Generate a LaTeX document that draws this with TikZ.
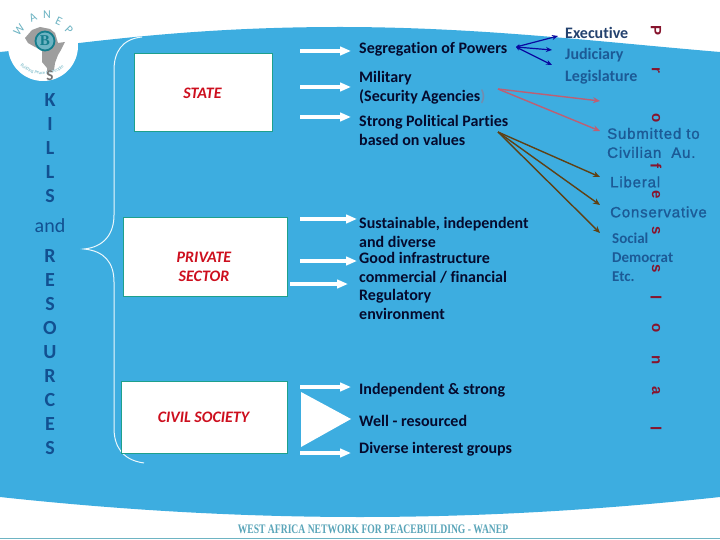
\documentclass[tikz,border=0pt]{standalone}
\usepackage{fontspec}
\setmainfont[Ligatures=NoCommon]{Carlito}
\newfontfamily\arialf{Liberation Sans}
\newfontfamily\arialsp[LetterSpace=5.5,FakeBold=1.2]{Liberation Sans}
\newfontfamily\serf{Liberation Serif}
\usetikzlibrary{arrows.meta,decorations.text}
\definecolor{bgblue}{RGB}{61,173,224}
\definecolor{boxedge}{RGB}{30,160,140}
\definecolor{redtxt}{RGB}{205,15,30}
\definecolor{navy}{RGB}{18,80,145}
\definecolor{midblue}{RGB}{28,90,150}
\definecolor{slatec}{RGB}{35,65,110}
\definecolor{itemc}{RGB}{5,10,45}
\definecolor{vred}{RGB}{135,20,45}
\definecolor{brownarr}{RGB}{95,65,20}
\definecolor{pinkarr}{RGB}{190,95,115}
\definecolor{darkarr}{RGB}{10,10,160}
\definecolor{tealg}{RGB}{110,180,195}
\definecolor{foottxt}{RGB}{90,165,185}
\definecolor{ringc}{RGB}{20,125,140}
\tikzset{
  x=1pt,y=-1pt,
  statebox/.style={draw=boxedge,line width=0.8pt,fill=white,inner sep=0,anchor=north west},
  boxtxt/.style={font=\fontsize{16}{19}\selectfont\bfseries\itshape,text=redtxt,align=center},
  item/.style={font=\fontsize{16}{19}\selectfont\bfseries,text=itemc,align=left,anchor=west,inner sep=0},
  letter/.style={font=\fontsize{20}{20}\selectfont\bfseries,text=navy,inner sep=0},
  vletter/.style={font=\arialf\fontsize{15}{15}\selectfont\bfseries,text=vred,rotate=-90,inner sep=0},
  logoletter/.style={font=\fontsize{12}{12}\selectfont,text=tealg,inner sep=0},
  whitearr/.style={draw=white,line width=3.2pt,-{Triangle[length=11pt,width=8.5pt]}},
  bluearr/.style={draw=darkarr,line width=1.2pt,{Stealth[length=4pt,width=4pt]}-{Stealth[length=6pt,width=5pt]}},
  pinkline/.style={draw=pinkarr,line width=1.4pt,-{Stealth[length=7pt,width=6pt]}},
  brownline/.style={draw=brownarr,line width=1.4pt,-{Stealth[length=7pt,width=6pt]}},
  rtxt/.style={font=\arialsp\fontsize{15}{19}\selectfont,text=midblue,anchor=west,inner sep=0,align=left},
  rtxtb/.style={font=\fontsize{16}{19}\selectfont\bfseries,text=midblue,anchor=west,inner sep=0,align=left},
}
\begin{document}
\begin{tikzpicture}
\useasboundingbox (0,0) rectangle (720,540);
\fill[white] (0,0) rectangle (720,540);
% blue band
\fill[bgblue] (0,52) .. controls (80,44) and (180,27) .. (340,27)
  .. controls (480,27) and (600,42) .. (720,52) -- (720,497)
  .. controls (600,510) and (480,517) .. (360,517)
  .. controls (240,517) and (120,510) .. (0,497) -- cycle;
\draw[tealg,line width=0.8pt] (0,538.5) -- (720,538.5);
% logo
\fill[white] (43,46) circle (35);
\fill[black!38] (25,38) -- (32,30) -- (40,27) -- (50,29) -- (55,33) -- (58,43) -- (65,42) -- (61,50) -- (58,55)
  -- (55,63) -- (54,70) -- (47,71) -- (47,68) -- (42,62) -- (42,50) -- (35,47) -- (28,43) -- cycle;
\draw[ringc,line width=1.8pt,fill=tealg] (45,41) circle (9.5);
\node[font=\serf\fontsize{15}{15}\selectfont\bfseries,text=ringc,inner sep=0] (ring) at (45,41) {B};
\node[logoletter,rotate=50] (logoW) at (19,30) {W};
\node[logoletter,rotate=25] (logoA) at (33,18) {A};
\node[logoletter] (logoN) at (47,15) {N};
\node[logoletter,rotate=-25] (logoE) at (59,21) {E};
\node[logoletter,rotate=-45] (logoP) at (69,30) {P};
\path[decorate,decoration={text along path,text align=center,raise=0pt,
   text={|\fontsize{4.6}{5}\selectfont\color{tealg}|Building Peace for People}}]
   (15,57) .. controls (24,80) and (60,80) .. (70,59);
% left letters
\node[font=\fontsize{15}{15}\selectfont\bfseries,text=black!55,inner sep=0] (lefta) at (50,76) {S};
\foreach \c/\y/\n in {K/100/b,I/124/c,L/148/d,L/172/e,S/196/f,R/256/g,E/280/h,S/304/i,O/328/j,U/352/k,R/376/l,C/400/m,E/424/n,S/448/o}
  \node[letter] (left\n) at (50,\y) {\c};
\node[font=\fontsize{20}{20}\selectfont,text=navy,inner sep=0] (andw) at (50,226) {and};
% brace
\draw[white!90!bgblue,line width=1pt] (142,37) .. controls (122,39) and (114,52) .. (114,70)
  -- (114,215) .. controls (114,234) and (104,247) .. (84,249)
  .. controls (104,251) and (114,262) .. (114,282)
  -- (114,428) .. controls (114,446) and (122,460) .. (144,463);
% boxes
\node[statebox,minimum width=138pt,minimum height=78pt] (state) at (133.5,53.5) {};
\node[boxtxt] (stateT) at (202.5,93) {STATE};
\node[statebox,minimum width=164pt,minimum height=78pt] (priv) at (122.5,217.5) {};
\node[boxtxt] (privT) at (204,267) {PRIVATE\\SECTOR};
\node[statebox,minimum width=166pt,minimum height=72pt] (civil) at (120.5,380.5) {};
\node[boxtxt] (civilT) at (203.5,417) {CIVIL SOCIETY};
% white arrows
\foreach \n/\x/\y in {a/300/51,b/300/87,c/300/117,d/300/219,e/300/261,f/290/284,g/300/387,h/300/453}
  \coordinate (as\n) at (\x,\y);
\foreach \n/\x/\y in {a/351/51,b/351/87,c/351/117,d/357/219,e/357/261,f/348/284,g/351/387,h/351/453}
  \coordinate (ae\n) at (\x,\y);
\foreach \n in {a,b,c,d,e,f,g,h} \draw[whitearr] (as\n) -- (ae\n);
\fill[white] (301,392) -- (351,419) -- (301,447) -- cycle;
% items
\node[item] (i1) at (359,49) {Segregation of Powers};
\node[item] (i2) at (359,88) {Military\\(Security Agencies\textcolor[RGB]{115,140,175}{)}};
\node[item] (i3) at (359,130) {Strong Political Parties\\based on values};
\node[item] (i4) at (359,232) {Sustainable, independent\\and diverse};
\node[item] (i5) at (359,268) {Good infrastructure\\commercial / financial};
\node[item] (i6) at (359,304) {Regulatory\\environment};
\node[item] (i7) at (359,390) {Independent \& strong};
\node[item] (i8) at (359,421) {Well - resourced};
\node[item] (i9) at (359,449) {Diverse interest groups};
% right column
\node[font=\fontsize{16}{19}\selectfont\bfseries,text=slatec,anchor=west,inner sep=0] (exec) at (565,33) {Executive};
\node[rtxtb] (jud) at (565,55) {Judiciary};
\node[rtxtb] (leg) at (565,77) {Legislature};
\node[rtxt] (sub) at (607,143) {Submitted to\\Civilian\ \ Au.};
\node[rtxt] (lib) at (610,182) {Liberal};
\node[rtxt] (con) at (610,212) {Conservative};
\node[rtxtb,font=\fontsize{15}{19}\selectfont\bfseries] (soc) at (612,257) {Social\\Democrat\\Etc.};
% coloured arrows
\coordinate (b0) at (516,47);
\coordinate (b1) at (558,36);
\coordinate (b2) at (552,50);
\coordinate (b3) at (552,65);
\draw[bluearr] (b0) -- (b1);
\draw[bluearr] (b0) -- (b2);
\draw[bluearr] (b0) -- (b3);
\coordinate (p0) at (498,89);
\coordinate (p1) at (600,101);
\coordinate (p2) at (600,131);
\draw[pinkline] (p0) -- (p1);
\draw[pinkline] (p0) -- (p2);
\coordinate (q0) at (498,132);
\coordinate (q1) at (600,177);
\coordinate (q2) at (600,205);
\coordinate (q3) at (600,233);
\draw[brownline] (q0) -- (q1);
\draw[brownline] (q0) -- (q2);
\draw[brownline] (q0) -- (q3);
% vertical word
\foreach \c/\y/\n in {P/31/a,r/70/b,o/118/c,f/166/d,e/195/e,s/231/f,s/269/g,l/298/h,o/328/i,n/360/j,a/391/k,l/429/l}
  \node[vletter] (v\n) at (656,\y) {\c};
% footer
\node[font=\serf\fontsize{13}{13}\selectfont\bfseries,text=foottxt,inner sep=0,xscale=0.74] (foot) at (373,529) {WEST AFRICA NETWORK FOR PEACEBUILDING - WANEP};
\end{tikzpicture}
\end{document}
